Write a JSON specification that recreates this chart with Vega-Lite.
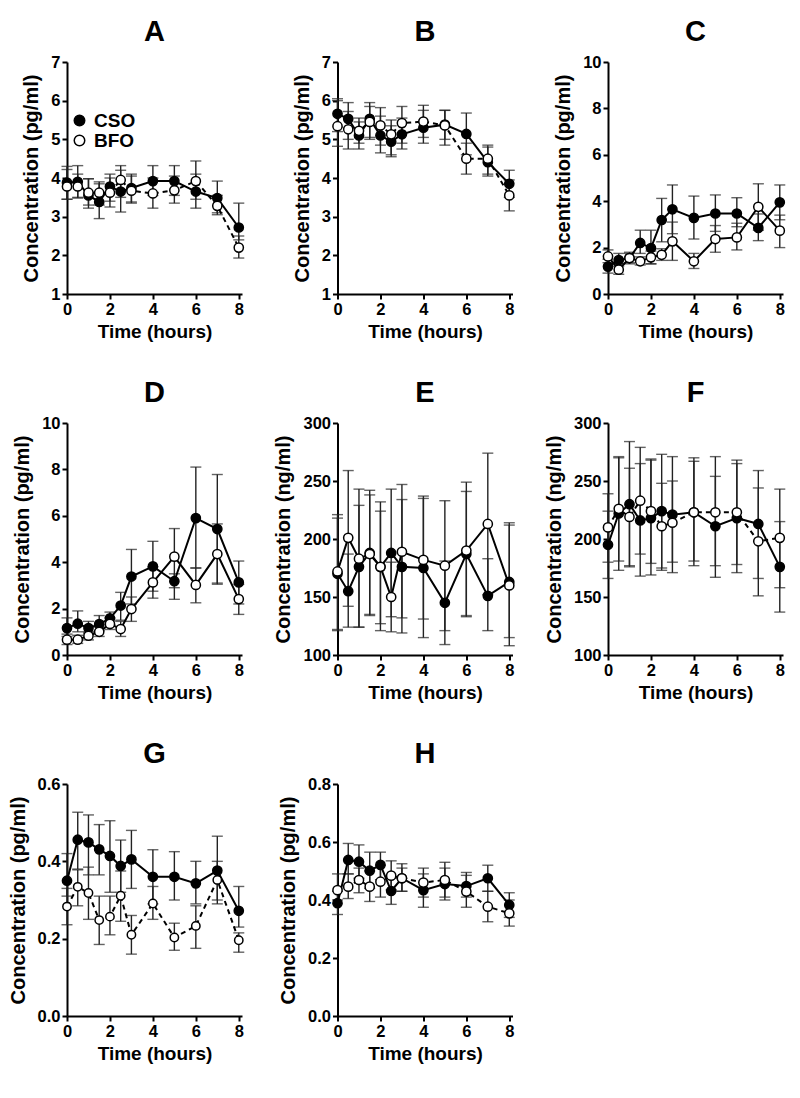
{
"$schema": "https://vega.github.io/schema/vega-lite/v6.json",
"padding": {"left": 8, "top": 18, "right": 5, "bottom": 5},
"background": "white",
"data": {"values": [
{"panel":"A","group":"CSO","time":0,"mean":3.88,"lower":3.45,"upper":4.3},
{"panel":"A","group":"CSO","time":0.5,"mean":3.9,"lower":3.5,"upper":4.32},
{"panel":"A","group":"CSO","time":1,"mean":3.55,"lower":3.22,"upper":3.98},
{"panel":"A","group":"CSO","time":1.5,"mean":3.38,"lower":2.95,"upper":3.85},
{"panel":"A","group":"CSO","time":2,"mean":3.78,"lower":3.4,"upper":4.1},
{"panel":"A","group":"CSO","time":2.5,"mean":3.65,"lower":3.12,"upper":4.2},
{"panel":"A","group":"CSO","time":3,"mean":3.74,"lower":3.38,"upper":4.1},
{"panel":"A","group":"CSO","time":4,"mean":3.92,"lower":3.55,"upper":4.32},
{"panel":"A","group":"CSO","time":5,"mean":3.92,"lower":3.55,"upper":4.32},
{"panel":"A","group":"CSO","time":6,"mean":3.65,"lower":3.22,"upper":4.1},
{"panel":"A","group":"CSO","time":7,"mean":3.48,"lower":3.1,"upper":3.92},
{"panel":"A","group":"CSO","time":8,"mean":2.72,"lower":2.4,"upper":3.35},
{"panel":"A","group":"BFO","time":0,"mean":3.78,"lower":3.45,"upper":4.22},
{"panel":"A","group":"BFO","time":0.5,"mean":3.78,"lower":3.48,"upper":4.1},
{"panel":"A","group":"BFO","time":1,"mean":3.62,"lower":3.3,"upper":3.98},
{"panel":"A","group":"BFO","time":1.5,"mean":3.62,"lower":3.3,"upper":3.9},
{"panel":"A","group":"BFO","time":2,"mean":3.62,"lower":3.25,"upper":4.0},
{"panel":"A","group":"BFO","time":2.5,"mean":3.95,"lower":3.5,"upper":4.32},
{"panel":"A","group":"BFO","time":3,"mean":3.67,"lower":3.35,"upper":4.05},
{"panel":"A","group":"BFO","time":4,"mean":3.6,"lower":3.22,"upper":4.0},
{"panel":"A","group":"BFO","time":5,"mean":3.68,"lower":3.35,"upper":4.05},
{"panel":"A","group":"BFO","time":6,"mean":3.92,"lower":3.45,"upper":4.44},
{"panel":"A","group":"BFO","time":7,"mean":3.28,"lower":3.05,"upper":3.55},
{"panel":"A","group":"BFO","time":8,"mean":2.2,"lower":1.93,"upper":2.5},
{"panel":"B","group":"CSO","time":0,"mean":5.66,"lower":5.2,"upper":6.05},
{"panel":"B","group":"CSO","time":0.5,"mean":5.53,"lower":5.0,"upper":5.95},
{"panel":"B","group":"CSO","time":1,"mean":5.1,"lower":4.75,"upper":5.45},
{"panel":"B","group":"CSO","time":1.5,"mean":5.53,"lower":5.0,"upper":5.95},
{"panel":"B","group":"CSO","time":2,"mean":5.1,"lower":4.65,"upper":5.6},
{"panel":"B","group":"CSO","time":2.5,"mean":4.94,"lower":4.55,"upper":5.35},
{"panel":"B","group":"CSO","time":3,"mean":5.13,"lower":4.75,"upper":5.55},
{"panel":"B","group":"CSO","time":4,"mean":5.3,"lower":4.9,"upper":5.75},
{"panel":"B","group":"CSO","time":5,"mean":5.38,"lower":4.85,"upper":5.75},
{"panel":"B","group":"CSO","time":6,"mean":5.14,"lower":4.6,"upper":5.68},
{"panel":"B","group":"CSO","time":7,"mean":4.41,"lower":4.05,"upper":4.8},
{"panel":"B","group":"CSO","time":8,"mean":3.85,"lower":3.5,"upper":4.2},
{"panel":"B","group":"BFO","time":0,"mean":5.34,"lower":4.82,"upper":6.0},
{"panel":"B","group":"BFO","time":0.5,"mean":5.26,"lower":4.75,"upper":5.72},
{"panel":"B","group":"BFO","time":1,"mean":5.22,"lower":4.9,"upper":5.55},
{"panel":"B","group":"BFO","time":1.5,"mean":5.45,"lower":5.05,"upper":5.85},
{"panel":"B","group":"BFO","time":2,"mean":5.36,"lower":4.85,"upper":5.82},
{"panel":"B","group":"BFO","time":2.5,"mean":5.13,"lower":4.6,"upper":5.5},
{"panel":"B","group":"BFO","time":3,"mean":5.42,"lower":4.9,"upper":5.85},
{"panel":"B","group":"BFO","time":4,"mean":5.46,"lower":5.05,"upper":5.88},
{"panel":"B","group":"BFO","time":5,"mean":5.36,"lower":5.0,"upper":5.75},
{"panel":"B","group":"BFO","time":6,"mean":4.5,"lower":4.1,"upper":4.9},
{"panel":"B","group":"BFO","time":7,"mean":4.5,"lower":4.1,"upper":4.85},
{"panel":"B","group":"BFO","time":8,"mean":3.55,"lower":3.15,"upper":3.95},
{"panel":"C","group":"CSO","time":0,"mean":1.18,"lower":0.9,"upper":1.5},
{"panel":"C","group":"CSO","time":0.5,"mean":1.46,"lower":1.2,"upper":1.75},
{"panel":"C","group":"CSO","time":1,"mean":1.55,"lower":1.35,"upper":1.8},
{"panel":"C","group":"CSO","time":1.5,"mean":2.2,"lower":1.75,"upper":2.75},
{"panel":"C","group":"CSO","time":2,"mean":1.98,"lower":1.3,"upper":2.75},
{"panel":"C","group":"CSO","time":2.5,"mean":3.19,"lower":2.25,"upper":4.12},
{"panel":"C","group":"CSO","time":3,"mean":3.65,"lower":2.6,"upper":4.7},
{"panel":"C","group":"CSO","time":4,"mean":3.28,"lower":2.37,"upper":4.22},
{"panel":"C","group":"CSO","time":5,"mean":3.47,"lower":2.7,"upper":4.27},
{"panel":"C","group":"CSO","time":6,"mean":3.47,"lower":2.9,"upper":4.15},
{"panel":"C","group":"CSO","time":7,"mean":2.85,"lower":2.3,"upper":3.45},
{"panel":"C","group":"CSO","time":8,"mean":3.95,"lower":3.2,"upper":4.7},
{"panel":"C","group":"BFO","time":0,"mean":1.62,"lower":1.35,"upper":1.9},
{"panel":"C","group":"BFO","time":0.5,"mean":1.05,"lower":0.85,"upper":1.3},
{"panel":"C","group":"BFO","time":1,"mean":1.55,"lower":1.3,"upper":1.75},
{"panel":"C","group":"BFO","time":1.5,"mean":1.41,"lower":1.25,"upper":1.6},
{"panel":"C","group":"BFO","time":2,"mean":1.58,"lower":1.3,"upper":1.85},
{"panel":"C","group":"BFO","time":2.5,"mean":1.69,"lower":1.45,"upper":1.95},
{"panel":"C","group":"BFO","time":3,"mean":2.27,"lower":1.45,"upper":3.1},
{"panel":"C","group":"BFO","time":4,"mean":1.41,"lower":1.1,"upper":1.75},
{"panel":"C","group":"BFO","time":5,"mean":2.37,"lower":1.8,"upper":2.95},
{"panel":"C","group":"BFO","time":6,"mean":2.44,"lower":1.9,"upper":3.05},
{"panel":"C","group":"BFO","time":7,"mean":3.76,"lower":2.75,"upper":4.75},
{"panel":"C","group":"BFO","time":8,"mean":2.73,"lower":2.0,"upper":3.4},
{"panel":"D","group":"CSO","time":0,"mean":1.16,"lower":0.8,"upper":1.6},
{"panel":"D","group":"CSO","time":0.5,"mean":1.35,"lower":1.0,"upper":1.9},
{"panel":"D","group":"CSO","time":1,"mean":1.16,"lower":0.95,"upper":1.45},
{"panel":"D","group":"CSO","time":1.5,"mean":1.33,"lower":1.05,"upper":1.7},
{"panel":"D","group":"CSO","time":2,"mean":1.58,"lower":1.3,"upper":1.85},
{"panel":"D","group":"CSO","time":2.5,"mean":2.13,"lower":1.5,"upper":2.7},
{"panel":"D","group":"CSO","time":3,"mean":3.38,"lower":2.2,"upper":4.55},
{"panel":"D","group":"CSO","time":4,"mean":3.82,"lower":2.75,"upper":4.9},
{"panel":"D","group":"CSO","time":5,"mean":3.18,"lower":2.9,"upper":3.5},
{"panel":"D","group":"CSO","time":6,"mean":5.9,"lower":3.75,"upper":8.1},
{"panel":"D","group":"CSO","time":7,"mean":5.43,"lower":3.1,"upper":7.78},
{"panel":"D","group":"CSO","time":8,"mean":3.13,"lower":2.2,"upper":4.05},
{"panel":"D","group":"BFO","time":0,"mean":0.66,"lower":0.45,"upper":0.9},
{"panel":"D","group":"BFO","time":0.5,"mean":0.66,"lower":0.5,"upper":0.85},
{"panel":"D","group":"BFO","time":1,"mean":0.83,"lower":0.65,"upper":1.0},
{"panel":"D","group":"BFO","time":1.5,"mean":1.0,"lower":0.8,"upper":1.2},
{"panel":"D","group":"BFO","time":2,"mean":1.34,"lower":1.1,"upper":1.6},
{"panel":"D","group":"BFO","time":2.5,"mean":1.12,"lower":0.8,"upper":1.45},
{"panel":"D","group":"BFO","time":3,"mean":1.98,"lower":1.45,"upper":2.5},
{"panel":"D","group":"BFO","time":4,"mean":3.13,"lower":2.45,"upper":3.8},
{"panel":"D","group":"BFO","time":5,"mean":4.24,"lower":2.4,"upper":5.45},
{"panel":"D","group":"BFO","time":6,"mean":3.02,"lower":2.25,"upper":3.75},
{"panel":"D","group":"BFO","time":7,"mean":4.35,"lower":3.05,"upper":5.65},
{"panel":"D","group":"BFO","time":8,"mean":2.41,"lower":1.75,"upper":3.05},
{"panel":"E","group":"CSO","time":0,"mean":170,"lower":122,"upper":218},
{"panel":"E","group":"CSO","time":0.5,"mean":155,"lower":124,"upper":187},
{"panel":"E","group":"CSO","time":1,"mean":176,"lower":124,"upper":229},
{"panel":"E","group":"CSO","time":1.5,"mean":188,"lower":135,"upper":238},
{"panel":"E","group":"CSO","time":2,"mean":176,"lower":127,"upper":224},
{"panel":"E","group":"CSO","time":2.5,"mean":188,"lower":133,"upper":243},
{"panel":"E","group":"CSO","time":3,"mean":176,"lower":119,"upper":234},
{"panel":"E","group":"CSO","time":4,"mean":175,"lower":115,"upper":235},
{"panel":"E","group":"CSO","time":5,"mean":145,"lower":109,"upper":181},
{"panel":"E","group":"CSO","time":6,"mean":187,"lower":133,"upper":241},
{"panel":"E","group":"CSO","time":7,"mean":151,"lower":121,"upper":183},
{"panel":"E","group":"CSO","time":8,"mean":163,"lower":115,"upper":214},
{"panel":"E","group":"BFO","time":0,"mean":172,"lower":121,"upper":221},
{"panel":"E","group":"BFO","time":0.5,"mean":201,"lower":142,"upper":259},
{"panel":"E","group":"BFO","time":1,"mean":183,"lower":124,"upper":243},
{"panel":"E","group":"BFO","time":1.5,"mean":187,"lower":134,"upper":242},
{"panel":"E","group":"BFO","time":2,"mean":176,"lower":121,"upper":232},
{"panel":"E","group":"BFO","time":2.5,"mean":150,"lower":120,"upper":180},
{"panel":"E","group":"BFO","time":3,"mean":189,"lower":132,"upper":247},
{"panel":"E","group":"BFO","time":4,"mean":182,"lower":131,"upper":237},
{"panel":"E","group":"BFO","time":5,"mean":177,"lower":121,"upper":233},
{"panel":"E","group":"BFO","time":6,"mean":190,"lower":134,"upper":249},
{"panel":"E","group":"BFO","time":7,"mean":213,"lower":152,"upper":274},
{"panel":"E","group":"BFO","time":8,"mean":160,"lower":108,"upper":212},
{"panel":"F","group":"CSO","time":0,"mean":195,"lower":166,"upper":224},
{"panel":"F","group":"CSO","time":0.5,"mean":222,"lower":173,"upper":270},
{"panel":"F","group":"CSO","time":1,"mean":230,"lower":176,"upper":284},
{"panel":"F","group":"CSO","time":1.5,"mean":216,"lower":168,"upper":265},
{"panel":"F","group":"CSO","time":2,"mean":218,"lower":169,"upper":268},
{"panel":"F","group":"CSO","time":2.5,"mean":224,"lower":175,"upper":273},
{"panel":"F","group":"CSO","time":3,"mean":221,"lower":171,"upper":271},
{"panel":"F","group":"CSO","time":4,"mean":223,"lower":177,"upper":267},
{"panel":"F","group":"CSO","time":5,"mean":211,"lower":167,"upper":254},
{"panel":"F","group":"CSO","time":6,"mean":218,"lower":171,"upper":265},
{"panel":"F","group":"CSO","time":7,"mean":213,"lower":166,"upper":259},
{"panel":"F","group":"CSO","time":8,"mean":176,"lower":137,"upper":215},
{"panel":"F","group":"BFO","time":0,"mean":210,"lower":180,"upper":239},
{"panel":"F","group":"BFO","time":0.5,"mean":226,"lower":181,"upper":271},
{"panel":"F","group":"BFO","time":1,"mean":219,"lower":177,"upper":261},
{"panel":"F","group":"BFO","time":1.5,"mean":233,"lower":187,"upper":279},
{"panel":"F","group":"BFO","time":2,"mean":224,"lower":179,"upper":269},
{"panel":"F","group":"BFO","time":2.5,"mean":211,"lower":173,"upper":248},
{"panel":"F","group":"BFO","time":3,"mean":214,"lower":180,"upper":250},
{"panel":"F","group":"BFO","time":4,"mean":223,"lower":181,"upper":270},
{"panel":"F","group":"BFO","time":5,"mean":223,"lower":177,"upper":271},
{"panel":"F","group":"BFO","time":6,"mean":223,"lower":178,"upper":268},
{"panel":"F","group":"BFO","time":7,"mean":198,"lower":151,"upper":244},
{"panel":"F","group":"BFO","time":8,"mean":201,"lower":158,"upper":243},
{"panel":"G","group":"CSO","time":0,"mean":0.35,"lower":0.31,"upper":0.42},
{"panel":"G","group":"CSO","time":0.5,"mean":0.456,"lower":0.38,"upper":0.527},
{"panel":"G","group":"CSO","time":1,"mean":0.449,"lower":0.365,"upper":0.52},
{"panel":"G","group":"CSO","time":1.5,"mean":0.431,"lower":0.365,"upper":0.495},
{"panel":"G","group":"CSO","time":2,"mean":0.414,"lower":0.32,"upper":0.505},
{"panel":"G","group":"CSO","time":2.5,"mean":0.388,"lower":0.32,"upper":0.455},
{"panel":"G","group":"CSO","time":3,"mean":0.405,"lower":0.33,"upper":0.48},
{"panel":"G","group":"CSO","time":4,"mean":0.36,"lower":0.29,"upper":0.43},
{"panel":"G","group":"CSO","time":5,"mean":0.36,"lower":0.3,"upper":0.425},
{"panel":"G","group":"CSO","time":6,"mean":0.343,"lower":0.29,"upper":0.4},
{"panel":"G","group":"CSO","time":7,"mean":0.376,"lower":0.3,"upper":0.465},
{"panel":"G","group":"CSO","time":8,"mean":0.272,"lower":0.23,"upper":0.335},
{"panel":"G","group":"BFO","time":0,"mean":0.283,"lower":0.236,"upper":0.33},
{"panel":"G","group":"BFO","time":0.5,"mean":0.334,"lower":0.285,"upper":0.378},
{"panel":"G","group":"BFO","time":1,"mean":0.318,"lower":0.25,"upper":0.385},
{"panel":"G","group":"BFO","time":1.5,"mean":0.248,"lower":0.185,"upper":0.31},
{"panel":"G","group":"BFO","time":2,"mean":0.257,"lower":0.21,"upper":0.31},
{"panel":"G","group":"BFO","time":2.5,"mean":0.311,"lower":0.245,"upper":0.375},
{"panel":"G","group":"BFO","time":3,"mean":0.21,"lower":0.16,"upper":0.26},
{"panel":"G","group":"BFO","time":4,"mean":0.291,"lower":0.25,"upper":0.335},
{"panel":"G","group":"BFO","time":5,"mean":0.203,"lower":0.17,"upper":0.24},
{"panel":"G","group":"BFO","time":6,"mean":0.233,"lower":0.175,"upper":0.285},
{"panel":"G","group":"BFO","time":7,"mean":0.352,"lower":0.29,"upper":0.4},
{"panel":"G","group":"BFO","time":8,"mean":0.196,"lower":0.165,"upper":0.215},
{"panel":"H","group":"CSO","time":0,"mean":0.389,"lower":0.35,"upper":0.43},
{"panel":"H","group":"CSO","time":0.5,"mean":0.538,"lower":0.49,"upper":0.595},
{"panel":"H","group":"CSO","time":1,"mean":0.532,"lower":0.475,"upper":0.59},
{"panel":"H","group":"CSO","time":1.5,"mean":0.501,"lower":0.44,"upper":0.565},
{"panel":"H","group":"CSO","time":2,"mean":0.521,"lower":0.47,"upper":0.565},
{"panel":"H","group":"CSO","time":2.5,"mean":0.431,"lower":0.385,"upper":0.475},
{"panel":"H","group":"CSO","time":3,"mean":0.475,"lower":0.43,"upper":0.525},
{"panel":"H","group":"CSO","time":4,"mean":0.434,"lower":0.375,"upper":0.49},
{"panel":"H","group":"CSO","time":5,"mean":0.455,"lower":0.4,"upper":0.51},
{"panel":"H","group":"CSO","time":6,"mean":0.448,"lower":0.41,"upper":0.495},
{"panel":"H","group":"CSO","time":7,"mean":0.475,"lower":0.43,"upper":0.52},
{"panel":"H","group":"CSO","time":8,"mean":0.383,"lower":0.34,"upper":0.425},
{"panel":"H","group":"BFO","time":0,"mean":0.434,"lower":0.4,"upper":0.49},
{"panel":"H","group":"BFO","time":0.5,"mean":0.446,"lower":0.405,"upper":0.49},
{"panel":"H","group":"BFO","time":1,"mean":0.469,"lower":0.425,"upper":0.51},
{"panel":"H","group":"BFO","time":1.5,"mean":0.446,"lower":0.395,"upper":0.5},
{"panel":"H","group":"BFO","time":2,"mean":0.463,"lower":0.41,"upper":0.52},
{"panel":"H","group":"BFO","time":2.5,"mean":0.484,"lower":0.435,"upper":0.535},
{"panel":"H","group":"BFO","time":3,"mean":0.475,"lower":0.43,"upper":0.51},
{"panel":"H","group":"BFO","time":4,"mean":0.46,"lower":0.41,"upper":0.51},
{"panel":"H","group":"BFO","time":5,"mean":0.469,"lower":0.41,"upper":0.53},
{"panel":"H","group":"BFO","time":6,"mean":0.429,"lower":0.375,"upper":0.485},
{"panel":"H","group":"BFO","time":7,"mean":0.377,"lower":0.325,"upper":0.43},
{"panel":"H","group":"BFO","time":8,"mean":0.354,"lower":0.31,"upper":0.4}
]},
"columns": 3,
"spacing": {"row": 129, "column": 95.5},
"bounds": "flush",
"resolve": {"legend": {"fill": "independent"}, "scale": {"fill": "independent"}},
"concat": [
{"title": "A", "width": 175, "height": 232,
 "transform": [{"filter": "datum.panel === 'A'"}],
 "encoding": {
  "x": {"field": "time", "type": "quantitative", "scale": {"domain": [0, 8.15], "nice": false, "zero": false}, "axis": {"values": [0,2,4,6,8], "title": "Time (hours)"}},
  "y": {"field": "mean", "type": "quantitative", "scale": {"domain": [1, 7], "nice": false, "zero": false}, "axis": {"values": [1,2,3,4,5,6,7], "title": "Concentration (pg/ml)"}}
 },
 "layer": [
  {"mark": {"type": "errorbar", "ticks": {"size": 11}, "color": "#222", "thickness": 1.4},
   "encoding": {"y": {"field": "lower", "type": "quantitative", "scale": {"domain": [1, 7], "nice": false, "zero": false}, "title": "Concentration (pg/ml)"}, "y2": {"field": "upper"}}},
  {"transform": [{"filter": "datum.group === 'CSO'"}], "mark": {"type": "line", "color": "black", "strokeWidth": 2}},
  {"transform": [{"filter": "datum.group === 'BFO'"}], "mark": {"type": "line", "color": "black", "strokeWidth": 2, "strokeDash": [5, 4]}},
  {"transform": [{"filter": "datum.group === 'CSO'"}], "mark": {"type": "point", "shape": "circle", "filled": true, "size": 85, "stroke": "black", "strokeWidth": 1.5, "opacity": 1},
   "encoding": {"fill": {"field": "group", "type": "nominal", "scale": {"domain": ["CSO", "BFO"], "range": ["black", "white"]}, "legend": {"orient": "none", "legendX": 3, "legendY": 49, "title": null, "symbolType": "circle", "symbolSize": 110, "symbolStrokeColor": "black", "symbolStrokeWidth": 1.5, "labelFontSize": 19, "labelFontWeight": "bold", "labelColor": "black", "rowPadding": 0, "labelOffset": 5}}}},
  {"transform": [{"filter": "datum.group === 'BFO'"}], "mark": {"type": "point", "shape": "circle", "filled": true, "size": 85, "stroke": "black", "strokeWidth": 1.5, "opacity": 1},
   "encoding": {"fill": {"field": "group", "type": "nominal", "scale": {"domain": ["CSO", "BFO"], "range": ["black", "white"]}, "legend": {"orient": "none", "legendX": 3, "legendY": 49, "title": null, "symbolType": "circle", "symbolSize": 110, "symbolStrokeColor": "black", "symbolStrokeWidth": 1.5, "labelFontSize": 19, "labelFontWeight": "bold", "labelColor": "black", "rowPadding": 0, "labelOffset": 5}}}}
 ]},
{"title": "B", "width": 175, "height": 232,
 "transform": [{"filter": "datum.panel === 'B'"}],
 "encoding": {
  "x": {"field": "time", "type": "quantitative", "scale": {"domain": [0, 8.15], "nice": false, "zero": false}, "axis": {"values": [0,2,4,6,8], "title": "Time (hours)"}},
  "y": {"field": "mean", "type": "quantitative", "scale": {"domain": [1, 7], "nice": false, "zero": false}, "axis": {"values": [1,2,3,4,5,6,7], "title": "Concentration (pg/ml)"}}
 },
 "layer": [
  {"mark": {"type": "errorbar", "ticks": {"size": 11}, "color": "#222", "thickness": 1.4},
   "encoding": {"y": {"field": "lower", "type": "quantitative", "scale": {"domain": [1, 7], "nice": false, "zero": false}, "title": "Concentration (pg/ml)"}, "y2": {"field": "upper"}}},
  {"transform": [{"filter": "datum.group === 'CSO'"}], "mark": {"type": "line", "color": "black", "strokeWidth": 2}},
  {"transform": [{"filter": "datum.group === 'BFO'"}], "mark": {"type": "line", "color": "black", "strokeWidth": 2, "strokeDash": [5, 4]}},
  {"transform": [{"filter": "datum.group === 'CSO'"}], "mark": {"type": "point", "shape": "circle", "filled": true, "size": 85, "stroke": "black", "strokeWidth": 1.5, "opacity": 1},
   "encoding": {"fill": {"field": "group", "type": "nominal", "scale": {"domain": ["CSO", "BFO"], "range": ["black", "white"]}, "legend": null}}},
  {"transform": [{"filter": "datum.group === 'BFO'"}], "mark": {"type": "point", "shape": "circle", "filled": true, "size": 85, "stroke": "black", "strokeWidth": 1.5, "opacity": 1},
   "encoding": {"fill": {"field": "group", "type": "nominal", "scale": {"domain": ["CSO", "BFO"], "range": ["black", "white"]}, "legend": null}}}
 ]},
{"title": "C", "width": 175, "height": 232,
 "transform": [{"filter": "datum.panel === 'C'"}],
 "encoding": {
  "x": {"field": "time", "type": "quantitative", "scale": {"domain": [0, 8.15], "nice": false, "zero": false}, "axis": {"values": [0,2,4,6,8], "title": "Time (hours)"}},
  "y": {"field": "mean", "type": "quantitative", "scale": {"domain": [0, 10], "nice": false, "zero": false}, "axis": {"values": [0,2,4,6,8,10], "title": "Concentration (pg/ml)"}}
 },
 "layer": [
  {"mark": {"type": "errorbar", "ticks": {"size": 11}, "color": "#222", "thickness": 1.4},
   "encoding": {"y": {"field": "lower", "type": "quantitative", "scale": {"domain": [0, 10], "nice": false, "zero": false}, "title": "Concentration (pg/ml)"}, "y2": {"field": "upper"}}},
  {"transform": [{"filter": "datum.group === 'CSO'"}], "mark": {"type": "line", "color": "black", "strokeWidth": 2}},
  {"transform": [{"filter": "datum.group === 'BFO'"}], "mark": {"type": "line", "color": "black", "strokeWidth": 2}},
  {"transform": [{"filter": "datum.group === 'CSO'"}], "mark": {"type": "point", "shape": "circle", "filled": true, "size": 85, "stroke": "black", "strokeWidth": 1.5, "opacity": 1},
   "encoding": {"fill": {"field": "group", "type": "nominal", "scale": {"domain": ["CSO", "BFO"], "range": ["black", "white"]}, "legend": null}}},
  {"transform": [{"filter": "datum.group === 'BFO'"}], "mark": {"type": "point", "shape": "circle", "filled": true, "size": 85, "stroke": "black", "strokeWidth": 1.5, "opacity": 1},
   "encoding": {"fill": {"field": "group", "type": "nominal", "scale": {"domain": ["CSO", "BFO"], "range": ["black", "white"]}, "legend": null}}}
 ]},
{"title": "D", "width": 175, "height": 232,
 "transform": [{"filter": "datum.panel === 'D'"}],
 "encoding": {
  "x": {"field": "time", "type": "quantitative", "scale": {"domain": [0, 8.15], "nice": false, "zero": false}, "axis": {"values": [0,2,4,6,8], "title": "Time (hours)"}},
  "y": {"field": "mean", "type": "quantitative", "scale": {"domain": [0, 10], "nice": false, "zero": false}, "axis": {"values": [0,2,4,6,8,10], "title": "Concentration (pg/ml)"}}
 },
 "layer": [
  {"mark": {"type": "errorbar", "ticks": {"size": 11}, "color": "#222", "thickness": 1.4},
   "encoding": {"y": {"field": "lower", "type": "quantitative", "scale": {"domain": [0, 10], "nice": false, "zero": false}, "title": "Concentration (pg/ml)"}, "y2": {"field": "upper"}}},
  {"transform": [{"filter": "datum.group === 'CSO'"}], "mark": {"type": "line", "color": "black", "strokeWidth": 2}},
  {"transform": [{"filter": "datum.group === 'BFO'"}], "mark": {"type": "line", "color": "black", "strokeWidth": 2}},
  {"transform": [{"filter": "datum.group === 'CSO'"}], "mark": {"type": "point", "shape": "circle", "filled": true, "size": 85, "stroke": "black", "strokeWidth": 1.5, "opacity": 1},
   "encoding": {"fill": {"field": "group", "type": "nominal", "scale": {"domain": ["CSO", "BFO"], "range": ["black", "white"]}, "legend": null}}},
  {"transform": [{"filter": "datum.group === 'BFO'"}], "mark": {"type": "point", "shape": "circle", "filled": true, "size": 85, "stroke": "black", "strokeWidth": 1.5, "opacity": 1},
   "encoding": {"fill": {"field": "group", "type": "nominal", "scale": {"domain": ["CSO", "BFO"], "range": ["black", "white"]}, "legend": null}}}
 ]},
{"title": "E", "width": 175, "height": 232,
 "transform": [{"filter": "datum.panel === 'E'"}],
 "encoding": {
  "x": {"field": "time", "type": "quantitative", "scale": {"domain": [0, 8.15], "nice": false, "zero": false}, "axis": {"values": [0,2,4,6,8], "title": "Time (hours)"}},
  "y": {"field": "mean", "type": "quantitative", "scale": {"domain": [100, 300], "nice": false, "zero": false}, "axis": {"values": [100,150,200,250,300], "title": "Concentration (ng/ml)"}}
 },
 "layer": [
  {"mark": {"type": "errorbar", "ticks": {"size": 11}, "color": "#222", "thickness": 1.4},
   "encoding": {"y": {"field": "lower", "type": "quantitative", "scale": {"domain": [100, 300], "nice": false, "zero": false}, "title": "Concentration (ng/ml)"}, "y2": {"field": "upper"}}},
  {"transform": [{"filter": "datum.group === 'CSO'"}], "mark": {"type": "line", "color": "black", "strokeWidth": 2}},
  {"transform": [{"filter": "datum.group === 'BFO'"}], "mark": {"type": "line", "color": "black", "strokeWidth": 2}},
  {"transform": [{"filter": "datum.group === 'CSO'"}], "mark": {"type": "point", "shape": "circle", "filled": true, "size": 85, "stroke": "black", "strokeWidth": 1.5, "opacity": 1},
   "encoding": {"fill": {"field": "group", "type": "nominal", "scale": {"domain": ["CSO", "BFO"], "range": ["black", "white"]}, "legend": null}}},
  {"transform": [{"filter": "datum.group === 'BFO'"}], "mark": {"type": "point", "shape": "circle", "filled": true, "size": 85, "stroke": "black", "strokeWidth": 1.5, "opacity": 1},
   "encoding": {"fill": {"field": "group", "type": "nominal", "scale": {"domain": ["CSO", "BFO"], "range": ["black", "white"]}, "legend": null}}}
 ]},
{"title": "F", "width": 175, "height": 232,
 "transform": [{"filter": "datum.panel === 'F'"}],
 "encoding": {
  "x": {"field": "time", "type": "quantitative", "scale": {"domain": [0, 8.15], "nice": false, "zero": false}, "axis": {"values": [0,2,4,6,8], "title": "Time (hours)"}},
  "y": {"field": "mean", "type": "quantitative", "scale": {"domain": [100, 300], "nice": false, "zero": false}, "axis": {"values": [100,150,200,250,300], "title": "Concentration (ng/ml)"}}
 },
 "layer": [
  {"mark": {"type": "errorbar", "ticks": {"size": 11}, "color": "#222", "thickness": 1.4},
   "encoding": {"y": {"field": "lower", "type": "quantitative", "scale": {"domain": [100, 300], "nice": false, "zero": false}, "title": "Concentration (ng/ml)"}, "y2": {"field": "upper"}}},
  {"transform": [{"filter": "datum.group === 'CSO'"}], "mark": {"type": "line", "color": "black", "strokeWidth": 2}},
  {"transform": [{"filter": "datum.group === 'BFO'"}], "mark": {"type": "line", "color": "black", "strokeWidth": 2, "strokeDash": [5, 4]}},
  {"transform": [{"filter": "datum.group === 'CSO'"}], "mark": {"type": "point", "shape": "circle", "filled": true, "size": 85, "stroke": "black", "strokeWidth": 1.5, "opacity": 1},
   "encoding": {"fill": {"field": "group", "type": "nominal", "scale": {"domain": ["CSO", "BFO"], "range": ["black", "white"]}, "legend": null}}},
  {"transform": [{"filter": "datum.group === 'BFO'"}], "mark": {"type": "point", "shape": "circle", "filled": true, "size": 85, "stroke": "black", "strokeWidth": 1.5, "opacity": 1},
   "encoding": {"fill": {"field": "group", "type": "nominal", "scale": {"domain": ["CSO", "BFO"], "range": ["black", "white"]}, "legend": null}}}
 ]},
{"title": "G", "width": 175, "height": 232,
 "transform": [{"filter": "datum.panel === 'G'"}],
 "encoding": {
  "x": {"field": "time", "type": "quantitative", "scale": {"domain": [0, 8.15], "nice": false, "zero": false}, "axis": {"values": [0,2,4,6,8], "title": "Time (hours)"}},
  "y": {"field": "mean", "type": "quantitative", "scale": {"domain": [0, 0.6], "nice": false, "zero": false}, "axis": {"values": [0,0.2,0.4,0.6], "format": ".1f", "title": "Concentration (pg/ml)"}}
 },
 "layer": [
  {"mark": {"type": "errorbar", "ticks": {"size": 11}, "color": "#222", "thickness": 1.4},
   "encoding": {"y": {"field": "lower", "type": "quantitative", "scale": {"domain": [0, 0.6], "nice": false, "zero": false}, "title": "Concentration (pg/ml)"}, "y2": {"field": "upper"}}},
  {"transform": [{"filter": "datum.group === 'CSO'"}], "mark": {"type": "line", "color": "black", "strokeWidth": 2}},
  {"transform": [{"filter": "datum.group === 'BFO'"}], "mark": {"type": "line", "color": "black", "strokeWidth": 2, "strokeDash": [5, 4]}},
  {"transform": [{"filter": "datum.group === 'CSO'"}], "mark": {"type": "point", "shape": "circle", "filled": true, "size": 85, "stroke": "black", "strokeWidth": 1.5, "opacity": 1},
   "encoding": {"fill": {"field": "group", "type": "nominal", "scale": {"domain": ["CSO", "BFO"], "range": ["black", "white"]}, "legend": null}}},
  {"transform": [{"filter": "datum.group === 'BFO'"}], "mark": {"type": "point", "shape": "circle", "filled": true, "size": 70, "stroke": "black", "strokeWidth": 1.5, "opacity": 1},
   "encoding": {"fill": {"field": "group", "type": "nominal", "scale": {"domain": ["CSO", "BFO"], "range": ["black", "white"]}, "legend": null}}}
 ]},
{"title": "H", "width": 175, "height": 232,
 "transform": [{"filter": "datum.panel === 'H'"}],
 "encoding": {
  "x": {"field": "time", "type": "quantitative", "scale": {"domain": [0, 8.15], "nice": false, "zero": false}, "axis": {"values": [0,2,4,6,8], "title": "Time (hours)"}},
  "y": {"field": "mean", "type": "quantitative", "scale": {"domain": [0, 0.8], "nice": false, "zero": false}, "axis": {"values": [0,0.2,0.4,0.6,0.8], "format": ".1f", "title": "Concentration (pg/ml)"}}
 },
 "layer": [
  {"mark": {"type": "errorbar", "ticks": {"size": 11}, "color": "#222", "thickness": 1.4},
   "encoding": {"y": {"field": "lower", "type": "quantitative", "scale": {"domain": [0, 0.8], "nice": false, "zero": false}, "title": "Concentration (pg/ml)"}, "y2": {"field": "upper"}}},
  {"transform": [{"filter": "datum.group === 'CSO'"}], "mark": {"type": "line", "color": "black", "strokeWidth": 2}},
  {"transform": [{"filter": "datum.group === 'BFO'"}], "mark": {"type": "line", "color": "black", "strokeWidth": 2, "strokeDash": [5, 4]}},
  {"transform": [{"filter": "datum.group === 'CSO'"}], "mark": {"type": "point", "shape": "circle", "filled": true, "size": 85, "stroke": "black", "strokeWidth": 1.5, "opacity": 1},
   "encoding": {"fill": {"field": "group", "type": "nominal", "scale": {"domain": ["CSO", "BFO"], "range": ["black", "white"]}, "legend": null}}},
  {"transform": [{"filter": "datum.group === 'BFO'"}], "mark": {"type": "point", "shape": "circle", "filled": true, "size": 85, "stroke": "black", "strokeWidth": 1.5, "opacity": 1},
   "encoding": {"fill": {"field": "group", "type": "nominal", "scale": {"domain": ["CSO", "BFO"], "range": ["black", "white"]}, "legend": null}}}
 ]}
],
"config": {
 "font": "Liberation Sans",
 "view": {"stroke": null},
 "axis": {"grid": false, "domainColor": "black", "domainWidth": 2, "tickColor": "black", "tickWidth": 2, "tickSize": 5, "labelFont": "Liberation Sans", "labelFontSize": 16.5, "labelFontWeight": "bold", "labelColor": "black", "labelPadding": 2, "labelFlush": false, "titleFont": "Liberation Sans", "titleFontWeight": "bold", "titleColor": "black"},
 "axisY": {"titlePadding": 9, "titleFontSize": 20},
 "axisX": {"titlePadding": 5, "titleFontSize": 19},
 "title": {"font": "Liberation Sans", "fontSize": 29, "fontWeight": "bold", "color": "black", "anchor": "middle", "offset": 7},
 "legend": {"labelFont": "Liberation Sans"}
}
}
